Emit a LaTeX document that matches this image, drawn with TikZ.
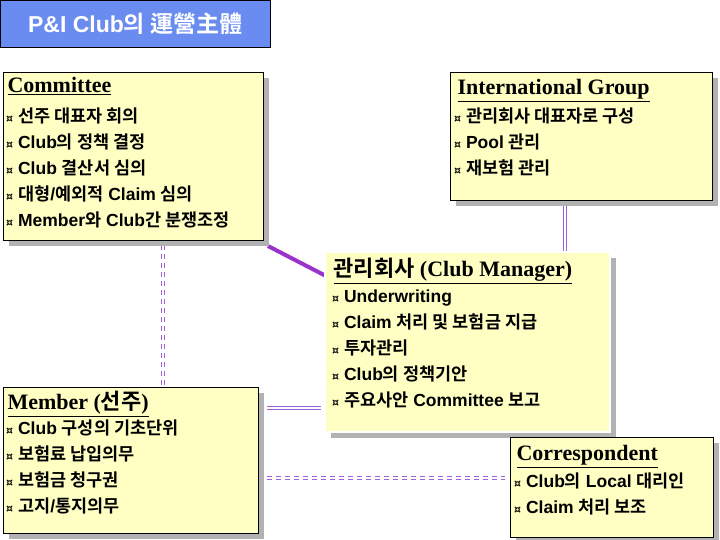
\documentclass[tikz,border=0pt]{standalone}
\usepackage{fontspec}
\setmainfont{Liberation Sans}
\newfontfamily\kr{Noto Sans CJK KR}[BoldFont={Noto Sans CJK KR Bold}]
\newfontfamily\hd{Liberation Serif}
\newfontfamily\bu{DejaVu Sans}
\definecolor{boxy}{HTML}{FFFFC4}
\definecolor{titb}{HTML}{6A8CF0}
\definecolor{pur}{HTML}{9933CC}
\definecolor{lpur}{HTML}{A060D8}
\begin{document}
\begin{tikzpicture}[x=1pt,y=-1pt,
  panel/.style={draw=black,fill=boxy},
  shade/.style={fill=gray!60},
  head/.style={anchor=north west,font=\hd\bfseries\fontsize{22}{24}\selectfont},
  item/.style={anchor=north west,font=\bfseries\fontsize{17.5}{26}\selectfont,inner sep=0pt,align=left},
  dbl/.style={draw=lpur,double=white,double distance=2pt,line width=1.4pt},
  dbld/.style={dbl,dash pattern=on 5pt off 4pt}]
\newcommand\bl{{\bu\fontsize{11}{10}\selectfont ¤}\ }
\useasboundingbox (0,0) rectangle (720,540);
% title
\node[draw=black,fill=titb,minimum width=270,minimum height=47,anchor=north west,inner sep=0] (title) at (0,0)
  {\textcolor{white}{\bfseries\fontsize{23}{25}\selectfont P\&I Club{\kr 의 運營主體}}};
% connectors (behind)
\coordinate (c1) at (163,245); \coordinate (c2) at (163,385);
\draw[dbld] (c1) -- (c2);
\coordinate (i1) at (565,203); \coordinate (i2) at (565,252);
\draw[dbl] (i1) -- (i2);
\coordinate (m1) at (267,408); \coordinate (m2) at (321,408);
\draw[dbl] (m1) -- (m2);
\coordinate (d1) at (267,478); \coordinate (d2) at (505,478);
\draw[dbld] (d1) -- (d2);
\coordinate (p1) at (268,246); \coordinate (p2) at (326,276);
\draw[pur,line width=4pt] (p1) -- (p2);
% committee
\fill[shade] (9,78) rectangle (269,246);
\draw[panel] (3,72) rectangle (263,240);
\node[head] (comh) at (4,74) {\underline{Committee}};
\node[item] (com) at (6,108) {\bl{\kr 선주 대표자 회의}\\
\bl Club{\kr 의 정책 결정}\\
\bl Club {\kr 결산서 심의}\\
\bl{\kr 대형}/{\kr 예외적} Claim {\kr 심의}\\
\bl Member{\kr 와} Club{\kr 간 분쟁조정}};
% international
\fill[shade] (456,78) rectangle (718,206);
\draw[panel] (450,72) rectangle (712,200);
\node[head] (inth) at (454,76) {\underline{International Group}};
\node[item] (int) at (454,108) {\bl{\kr 관리회사 대표자로 구성}\\
\bl Pool {\kr 관리}\\
\bl{\kr 재보험 관리}};
% manager
\fill[shade] (331,258) rectangle (616,438);
\draw[panel,double,double distance=1.5pt] (325,252) rectangle (610,432);
\node[head] (manh) at (330,255) {\underline{{\kr 관리회사} (Club Manager)}};
\node[item] (man) at (332,290) {\bl Underwriting\\
\bl Claim {\kr 처리 및 보험금 지급}\\
\bl{\kr 투자관리}\\
\bl Club{\kr 의 정책기안}\\
\bl{\kr 주요사안} Committee {\kr 보고}};
% member
\fill[shade] (9,393) rectangle (264,539);
\draw[panel] (3,387) rectangle (258,533);
\node[head] (memh) at (4,388) {\underline{Member ({\kr 선주})}};
\node[item] (mem) at (6,420) {\bl Club {\kr 구성의 기초단위}\\
\bl{\kr 보험료 납입의무}\\
\bl{\kr 보험금 청구권}\\
\bl{\kr 고지}/{\kr 통지의무}};
% correspondent
\fill[shade] (516,443) rectangle (719,543);
\draw[panel] (510,437) rectangle (713,537);
\node[head] (corh) at (513,442) {\underline{Correspondent}};
\node[item] (cor) at (514,473) {\bl Club{\kr 의} Local {\kr 대리인}\\
\bl Claim {\kr 처리 보조}};
\end{tikzpicture}
\end{document}
